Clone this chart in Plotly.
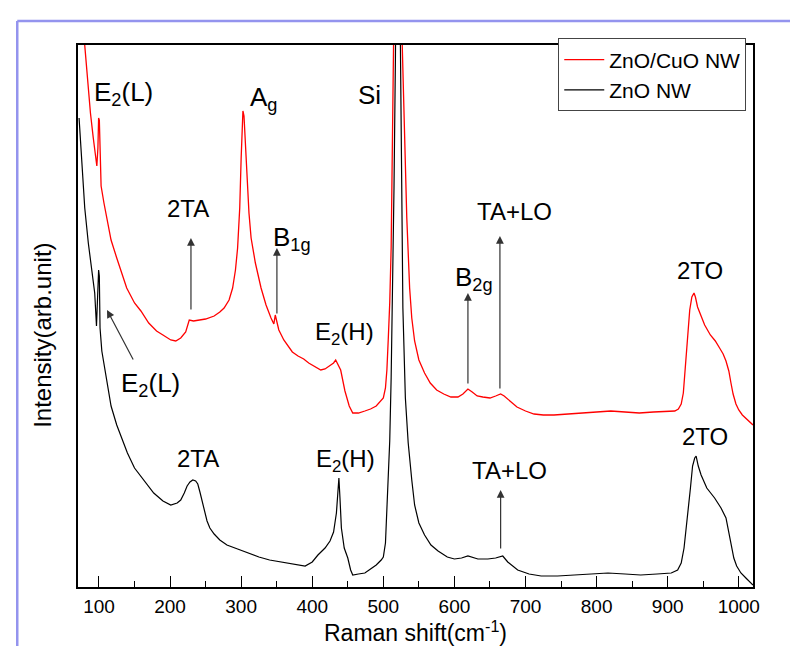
import plotly.graph_objects as go

# ---------------- data ----------------
red_x = [72, 76, 80, 84, 88, 92, 95, 97, 98.5, 99.5, 100.5, 101.5, 103, 107, 111, 117, 125, 135, 139, 150,
         159, 170, 181, 190, 201, 208, 215, 222, 225, 227, 233, 240, 250, 262, 270, 276, 283, 288, 292, 295,
         298, 300, 301.5, 302.5, 304, 306, 308, 311, 314, 320, 328, 335, 342, 346, 348, 350, 353, 360, 366, 372,
         380, 388, 395, 405, 412, 418, 425, 430, 433, 436, 440, 446, 452, 457, 465, 474, 482, 490, 497, 500,
         503, 505, 507, 509, 511, 513, 515, 517, 520, 523, 525, 528, 530, 533, 537, 540, 544, 550, 558, 566,
         575, 585, 595, 605, 612, 619, 625, 632, 640, 650, 658, 665, 670, 678, 688, 700, 712, 725, 740, 760,
         780, 800, 820, 840, 860, 880, 900, 910, 915, 919, 922, 925, 928, 931, 934, 937, 939, 942, 947, 952,
         960, 967, 973, 978, 982, 986, 989, 992, 996, 1000, 1005, 1012, 1020]
red_y = [609, 574, 542, 509, 474, 449, 434, 421, 439, 469, 467, 429, 401, 384, 369, 347, 329, 307, 299, 284,
         276, 264, 256, 252, 247, 246, 249, 255, 261, 267, 266, 267, 268, 271, 275, 279, 287, 299, 317, 339,
         379, 429, 464, 476, 471, 444, 404, 374, 349, 324, 299, 282, 269, 263, 272, 265, 257, 247, 241, 235,
         231, 228, 224, 220, 217, 218, 221, 224, 227, 223, 217, 196, 181, 174, 174, 176, 178, 181, 186, 189,
         199, 217, 249, 284, 339, 414, 494, 569, 879, 639, 579, 499, 429, 369, 299, 269, 246, 227, 214, 204,
         197, 193, 190, 190, 193, 198, 195, 191, 190, 189, 191, 193, 191, 186, 180, 176, 173, 172, 172, 173,
         174, 175, 176, 175, 174, 175, 176, 176, 178, 183, 194, 219, 249, 277, 290, 294, 290, 280, 271, 262,
         252, 246, 239, 233, 226, 216, 204, 193, 183, 177, 172, 167, 162]

black_x = [72, 76, 80, 85, 90, 94, 96.5, 98.5, 99.5, 100.5, 101.5, 104, 111, 117, 125, 135, 140, 150, 159, 170,
           177, 190, 201, 210, 215, 220, 224, 228, 232, 236, 239, 242, 245, 248, 252, 256, 262, 270, 280, 295,
           310, 325, 340, 355, 366, 380, 390, 400, 408, 418, 425, 430, 434, 436, 437.5, 439, 441, 445, 450, 454,
           457, 465, 474, 482, 490, 497, 500, 503, 506, 509, 511, 513, 515, 517, 520, 523, 525, 527.5, 531, 535,
           540, 544, 550, 558, 567, 577, 590, 600, 610, 619, 633, 647, 658, 668, 675, 689, 705, 722, 745, 769,
           790, 816, 840, 862, 885, 905, 914, 919, 923, 928, 932, 935, 938, 940, 943, 947, 955, 966, 975, 982,
           986, 989, 993, 997, 1003, 1010, 1020]
black_y = [469, 419, 379, 344, 317, 294, 261, 294, 317, 311, 259, 236, 204, 181, 162, 142, 134, 119, 111, 101,
           94, 86, 82, 84, 87, 94, 101, 105, 107, 106, 103, 95, 86, 77, 66, 59, 53, 47, 42, 38,
           34, 30, 27, 25, 24, 22, 21, 25, 32, 39, 46, 55, 74, 94, 109, 89, 59, 39, 29, 17,
           12, 13, 14, 18, 22, 27, 30, 44, 89, 146, 209, 289, 399, 529, 779, 619, 459, 279, 189, 144,
           107, 82, 64, 52, 42, 36, 30, 28, 29, 31, 28, 28, 29, 31, 25, 17, 13, 11, 11, 12,
           13, 14, 13, 12, 13, 14, 17, 24, 39, 69, 99, 121, 129, 131, 121, 112, 99, 89, 79, 69,
           55, 42, 29, 21, 14, 9, 2]

series_names = ["ZnO/CuO NW", "ZnO NW"]
x_tick_vals = [100, 200, 300, 400, 500, 600, 700, 800, 900, 1000]

# peak labels: text, x (cm-1), y (a.u.), font size
label_text = ["E<sub>2</sub>(L)", "A<sub>g</sub>", "Si", "2TA", "B<sub>1g</sub>", "E<sub>2</sub>(H)",
              "TA+LO", "B<sub>2g</sub>", "2TO", "E<sub>2</sub>(L)", "2TA", "E<sub>2</sub>(H)", "TA+LO", "2TO"]
label_x = [135, 332, 481, 225, 372, 445, 685, 628, 945, 173, 239, 447, 677, 952]
label_y = [494, 489, 492, 379, 349, 254, 376, 309, 317, 203, 129, 127, 117, 151]
label_size = [26, 26, 26, 24, 26, 24, 24, 26, 24, 26, 24, 24, 24, 24]

# arrows: head (x, y) and tail (x, y)
arrow_head_x = [229.4, 350.3, 619, 664, 111.3, 665]
arrow_head_y = [349, 339, 294, 351, 277, 97]
arrow_tail_x = [229.4, 350.3, 619, 664, 149.2, 665]
arrow_tail_y = [276, 272, 202, 197, 226, 37]

# ---------------- figure ----------------
fig = go.Figure()
fig.add_trace(go.Scatter(x=red_x, y=red_y, mode="lines", name=series_names[0],
                         line=dict(color="#ff0000", width=1.3)))
fig.add_trace(go.Scatter(x=black_x, y=black_y, mode="lines", name=series_names[1],
                         line=dict(color="#000000", width=1.2)))

FONT = "Liberation Sans, Arial, sans-serif"

annotations = []
for t, x, y, s in zip(label_text, label_x, label_y, label_size):
    annotations.append(dict(x=x, y=y, xref="x", yref="y", text=t, showarrow=False,
                            xanchor="center", yanchor="middle",
                            font=dict(family=FONT, size=s, color="black")))
for hx, hy, tx, ty in zip(arrow_head_x, arrow_head_y, arrow_tail_x, arrow_tail_y):
    annotations.append(dict(x=hx, y=hy, ax=tx, ay=ty, xref="x", yref="y", axref="x", ayref="y",
                            text="", showarrow=True, arrowhead=2, arrowsize=1.3, arrowwidth=1.2,
                            arrowcolor="#333333"))
annotations.append(dict(x=-0.052, y=0.465, xref="paper", yref="paper", text="Intensity(arb.unit)",
                        showarrow=False, textangle=-90, xanchor="center", yanchor="middle",
                        font=dict(family=FONT, size=24, color="black")))

shapes = [
    dict(type="line", xref="paper", yref="paper", x0=-0.090, x1=1.08, y0=1.0443, y1=1.0443,
         line=dict(color="#9494ee", width=2.5)),
    dict(type="line", xref="paper", yref="paper", x0=-0.090, x1=-0.090, y0=-0.13, y1=1.0443,
         line=dict(color="#9494ee", width=2.5)),
]

fig.update_layout(
    width=798, height=646,
    margin=dict(l=70, r=53, t=37, b=67),
    paper_bgcolor="white", plot_bgcolor="white",
    font=dict(family=FONT, color="black"),
    showlegend=True,
    legend=dict(x=0.99, y=1.012, xanchor="right", yanchor="top",
                bordercolor="#444444", borderwidth=1, bgcolor="white",
                font=dict(family=FONT, size=21, color="black"),
                itemwidth=40, tracegroupgap=0),
    annotations=annotations,
    shapes=shapes,
)
fig.update_xaxes(range=[70.5, 1020], showgrid=False, zeroline=False,
                 showline=True, linecolor="black", linewidth=1.6, mirror=True,
                 ticks="inside", ticklen=11, tickwidth=1.4, tickcolor="black",
                 tickvals=x_tick_vals, ticklabelstandoff=1,
                 tickfont=dict(family=FONT, size=19, color="black"),
                 minor=dict(ticks="inside", ticklen=6, tickwidth=1.2, tickcolor="black", dtick=50, tick0=0),
                 title=dict(text="Raman shift(cm<sup>-1</sup>)", standoff=0,
                            font=dict(family=FONT, size=23, color="black")),
                 automargin=False)
fig.update_yaxes(range=[0, 542], showgrid=False, zeroline=False, showticklabels=False,
                 showline=True, linecolor="black", linewidth=1.6, mirror=True, ticks="",
                 automargin=False)

fig.write_html("out.html")
